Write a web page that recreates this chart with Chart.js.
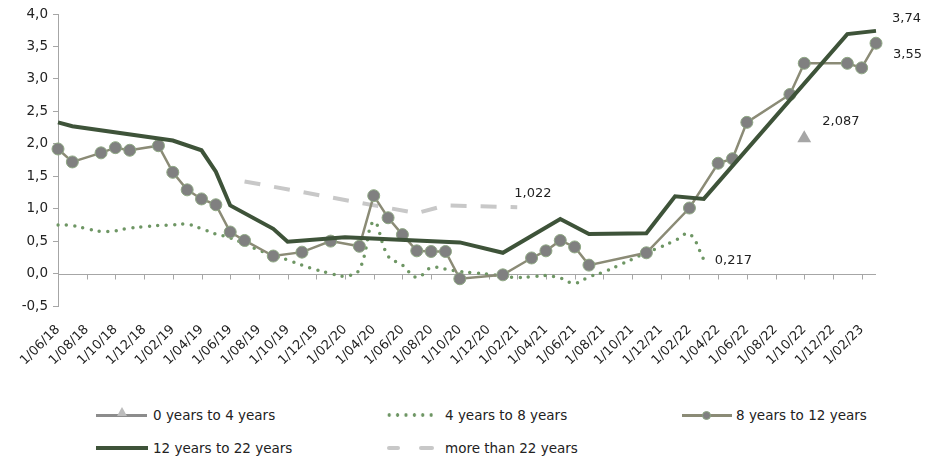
<!DOCTYPE html>
<html>
<head>
<meta charset="utf-8">
<script src="https://cdn.jsdelivr.net/npm/chart.js@4.4.1/dist/chart.umd.min.js"></script>
<style>
  html, body { margin: 0; padding: 0; background: #fff; }
  #wrap { position: relative; width: 941px; height: 458px; font-family: "DejaVu Sans", Verdana, sans-serif; color: #222; }
  #plot { position: absolute; left: 0; top: 0; }
  .lbl { position: absolute; font-size: 13.5px; line-height: 16px; white-space: nowrap; }
  .smp { position: absolute; }
</style>
</head>
<body>
<div id="wrap">
  <canvas id="plot" width="941" height="380"></canvas>

  <!-- legend row 1 -->
  <div class="smp" style="left:96px; top:414px; width:51px; height:3px; background:#8c8c8c;"></div>
  <div class="smp" style="left:117px; top:407px; width:0; height:0; border-left:5px solid transparent; border-right:5px solid transparent; border-bottom:9px solid #bcbcbc;"></div>
  <div class="lbl" style="left:153px; top:407px;">0 years to 4 years</div>

  <div class="smp" style="left:385px; top:413px; width:48px; height:4px; background:radial-gradient(circle, #6e9664 1.5px, transparent 2px); background-size:8.4px 4px;"></div>
  <div class="lbl" style="left:445px; top:407px;">4 years to 8 years</div>

  <div class="smp" style="left:682px; top:414px; width:50px; height:3px; background:#8b8b76;"></div>
  <div class="smp" style="left:702px; top:411px; width:7px; height:7px; border-radius:50%; background:#808080; border:1px solid #8fa884;"></div>
  <div class="lbl" style="left:736px; top:407px;">8 years to 12 years</div>

  <!-- legend row 2 -->
  <div class="smp" style="left:96px; top:446px; width:52px; height:4px; background:#3e5339;"></div>
  <div class="lbl" style="left:153px; top:440px;">12 years to 22 years</div>

  <div class="smp" style="left:387px; top:446px; width:13px; height:4px; background:#c8c8c8; border-radius:2px;"></div>
  <div class="smp" style="left:419px; top:446px; width:15px; height:4px; background:#c8c8c8; border-radius:2px;"></div>
  <div class="lbl" style="left:445px; top:440px;">more than 22 years</div>
</div>

<script>
// monthly categories, Jun 2018 .. Mar 2023
const months = [
  '1/06/18','1/07/18','1/08/18','1/09/18','1/10/18','1/11/18','1/12/18',
  '1/01/19','1/02/19','1/03/19','1/04/19','1/05/19','1/06/19','1/07/19','1/08/19','1/09/19','1/10/19','1/11/19','1/12/19',
  '1/01/20','1/02/20','1/03/20','1/04/20','1/05/20','1/06/20','1/07/20','1/08/20','1/09/20','1/10/20','1/11/20','1/12/20',
  '1/01/21','1/02/21','1/03/21','1/04/21','1/05/21','1/06/21','1/07/21','1/08/21','1/09/21','1/10/21','1/11/21','1/12/21',
  '1/01/22','1/02/22','1/03/22','1/04/22','1/05/22','1/06/22','1/07/22','1/08/22','1/09/22','1/10/22','1/11/22','1/12/22',
  '1/01/23','1/02/23','1/03/23'
];

const zeroTo4 = [
  null,null,null,null,null,null,null,null,null,null,null,null,null,null,null,null,null,null,null,
  null,null,null,null,null,null,null,null,null,null,null,null,
  null,null,null,null,null,null,null,null,null,null,null,null,
  null,null,null,null,null,null,null,null,null,2.087,null,null,
  null,null,null
];

const fourTo8 = [
  0.75,0.74,0.69,0.65,0.66,0.70,0.72,
  0.74,0.75,0.76,0.69,0.61,0.55,0.46,0.36,0.28,0.21,0.13,0.06,
  0.00,-0.04,0.06,0.80,0.27,0.13,-0.06,0.09,0.07,0.03,0.01,-0.01,
  -0.04,-0.06,-0.05,-0.03,-0.07,-0.15,-0.05,0.02,0.12,0.22,0.32,0.41,
  0.51,0.61,0.217,null,null,null,null,null,null,null,null,null,
  null,null,null
];

const eightTo12 = [
  1.92,1.72,null,1.86,1.94,1.90,null,
  1.97,1.56,1.29,1.15,1.06,0.64,0.51,null,0.27,null,0.33,null,
  0.50,null,0.42,1.20,0.86,0.60,0.35,0.34,0.34,-0.08,null,null,
  -0.02,null,0.24,0.35,0.51,0.41,0.13,null,null,null,0.32,null,
  null,1.01,null,1.70,1.77,2.33,null,null,2.76,3.24,null,null,
  3.24,3.17,3.55
];

const twelveTo22 = [
  2.33,2.27,null,null,null,null,null,
  null,2.05,null,1.90,1.57,1.05,null,null,0.69,0.49,null,null,
  null,0.56,null,null,null,null,null,null,null,0.48,null,null,
  0.32,null,null,null,0.84,null,0.61,null,null,null,0.62,null,
  1.19,null,1.15,null,null,null,null,null,null,null,null,null,
  3.69,null,3.74
];

const over22 = [
  null,null,null,null,null,null,null,
  null,null,null,null,null,null,1.42,null,null,null,null,null,
  null,null,null,null,null,null,0.93,null,1.05,null,null,null,
  null,1.022,null,null,null,null,null,null,null,null,null,null,
  null,null,null,null,null,null,null,null,null,null,null,null,
  null,null,null
];

const yTicks = [-0.5, 0, 0.5, 1, 1.5, 2, 2.5, 3, 3.5, 4];

// value notes: dataset index, point index, text, offset from the point
const notes = [
  { ds: 3, idx: 57, text: '3,74', dx: 16, dy: -12 },
  { ds: 2, idx: 57, text: '3,55', dx: 17, dy: 11 },
  { ds: 0, idx: 52, text: '2,087', dx: 18, dy: -17 },
  { ds: 4, idx: 32, text: '1,022', dx: -3, dy: -14 },
  { ds: 1, idx: 45, text: '0,217', dx: 11, dy: 1 }
];

const axisColor = '#a6a6a6';
const textColor = '#222';
const font = { family: '"DejaVu Sans", Verdana, sans-serif', size: 13 };

const zeroAxis = {
  id: 'zeroAxis',
  beforeDatasetsDraw(chart) {
    const { ctx, chartArea, scales } = chart;
    const y0 = Math.round(scales.y.getPixelForValue(0)) + 0.5;
    ctx.save();
    ctx.strokeStyle = axisColor;
    ctx.lineWidth = 1;
    ctx.beginPath();
    ctx.moveTo(chartArea.left, y0);
    ctx.lineTo(chartArea.right, y0);
    for (let i = 0; i < months.length; i += 2) {
      const px = Math.round(scales.x.getPixelForValue(i)) + 0.5;
      ctx.moveTo(px, y0);
      ctx.lineTo(px, y0 + 5);
    }
    ctx.stroke();
    ctx.restore();
  }
};

const valueNotes = {
  id: 'valueNotes',
  afterDatasetsDraw(chart) {
    const ctx = chart.ctx;
    ctx.save();
    ctx.font = font.size + 'px ' + font.family;
    ctx.fillStyle = textColor;
    ctx.textAlign = 'left';
    ctx.textBaseline = 'middle';
    notes.forEach(n => {
      const pt = chart.getDatasetMeta(n.ds).data[n.idx];
      ctx.fillText(n.text, pt.x + n.dx, pt.y + n.dy);
    });
    ctx.restore();
  }
};

new Chart(document.getElementById('plot').getContext('2d'), {
  type: 'line',
  data: {
    labels: months,
    datasets: [{
      label: '0 years to 4 years',
      data: zeroTo4,
      borderColor: '#a6a6a6',
      backgroundColor: '#a6a6a6',
      pointStyle: 'triangle',
      pointRadius: 8,
      pointBorderWidth: 0,
      showLine: false,
      order: 1
    }, {
      label: '4 years to 8 years',
      data: fourTo8,
      borderColor: '#6e9664',
      borderWidth: 3.5,
      borderDash: [0, 8.4],
      borderCapStyle: 'round',
      tension: 0.4,
      pointRadius: 0,
      spanGaps: false,
      order: 4
    }, {
      label: '8 years to 12 years',
      data: eightTo12,
      borderColor: '#8b8b76',
      borderWidth: 2.5,
      backgroundColor: '#808080',
      pointBackgroundColor: '#808080',
      pointBorderColor: '#8fa884',
      pointBorderWidth: 1,
      pointRadius: 6,
      tension: 0,
      spanGaps: true,
      order: 3
    }, {
      label: '12 years to 22 years',
      data: twelveTo22,
      borderColor: '#3e5339',
      borderWidth: 4,
      pointRadius: 0,
      tension: 0,
      spanGaps: true,
      order: 2
    }, {
      label: 'more than 22 years',
      data: over22,
      borderColor: '#c8c8c8',
      borderWidth: 4,
      borderDash: [16, 14],
      pointRadius: 0,
      tension: 0,
      spanGaps: true,
      order: 5
    }]
  },
  options: {
    responsive: false,
    animation: false,
    events: [],
    layout: { padding: { left: 0, right: 65, top: 14, bottom: 0 } },
    plugins: {
      legend: { display: false },
      tooltip: { enabled: false }
    },
    scales: {
      x: {
        offset: false,
        grid: { display: false },
        border: { display: false },
        ticks: {
          autoSkip: false,
          minRotation: 45,
          maxRotation: 45,
          padding: 8,
          color: textColor,
          font: font,
          callback: (v, i) => (i % 2 === 0 ? months[i] : '')
        },
        afterFit: s => { s.height = 74; }
      },
      y: {
        min: -0.5,
        max: 4,
        afterBuildTicks: s => { s.ticks = yTicks.map(v => ({ value: v })); },
        grid: { drawOnChartArea: false, tickLength: 5, color: axisColor },
        border: { color: axisColor },
        ticks: {
          padding: 5,
          color: textColor,
          font: { family: font.family, size: 13.5 },
          callback: v => v.toFixed(1).replace('.', ',')
        },
        afterFit: s => { s.width = 58; }
      }
    }
  },
  plugins: [zeroAxis, valueNotes]
});
</script>
</body>
</html>
